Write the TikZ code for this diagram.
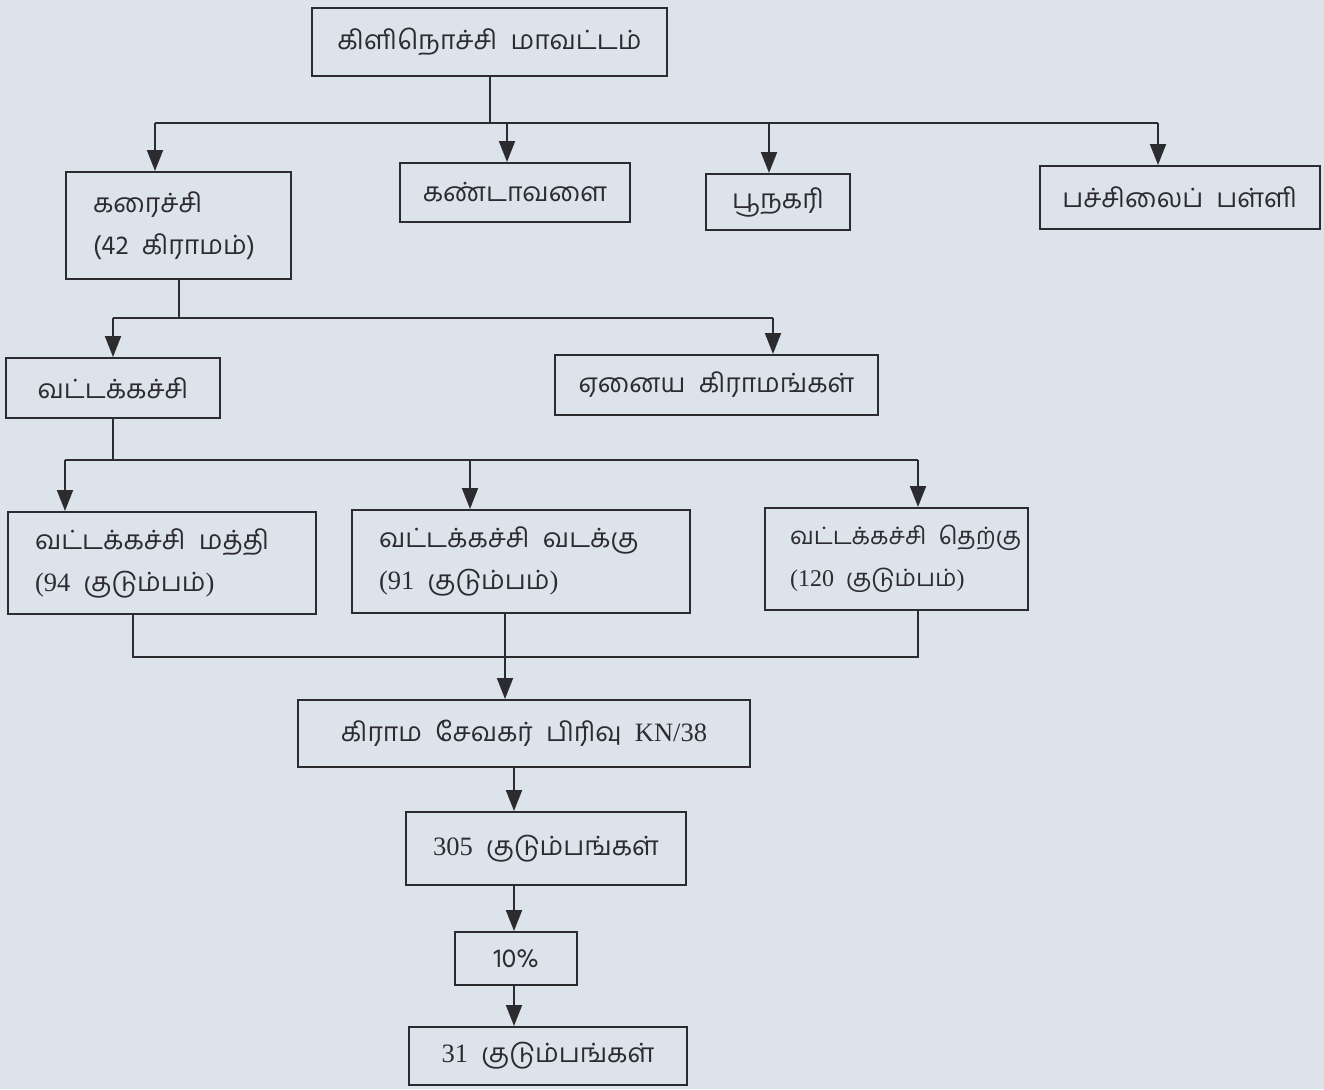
\documentclass[tikz,border=0pt]{standalone}
\usepackage{fontspec}
\setmainfont{Liberation Serif}
\newfontfamily\tam[Script=Tamil]{Hind Madurai}
\usetikzlibrary{arrows.meta}
\definecolor{paper}{RGB}{221,227,235}
\definecolor{ink}{RGB}{44,44,48}
\newcommand{\wgap}{\hspace{0.5em}}
\tikzset{
  box/.style={draw=ink, line width=2pt, text=ink, inner sep=0pt,
    font=\fontsize{26.5}{42}\selectfont},
  lbox/.style={box, align=left, inner xsep=27pt},
  link/.style={draw=ink, line width=2pt},
  arr/.style={link, -{Triangle[length=21pt,width=16pt]}},
}
\begin{document}
\begin{tikzpicture}[x=1pt,y=-1pt]
  \fill[paper] (0,0) rectangle (1324,1089);
  \node[box, minimum width=355pt, minimum height=68pt] (district) at (489.5,42)
    {\tam கிளிநொச்சி\wgap மாவட்டம்};
  \node[lbox, text width=171pt, minimum height=107pt] (karai) at (178.5,225.5)
    {\tam கரைச்சி\\(42\wgap{\tam கிராமம்})};
  \node[box, minimum width=230pt, minimum height=59pt] (kanda) at (515,192.5)
    {\tam கண்டாவளை};
  \node[box, minimum width=144pt, minimum height=56pt] (poona) at (778,202)
    {\tam பூநகரி};
  \node[box, minimum width=280pt, minimum height=63pt] (pachi) at (1180,197.5)
    {\tam பச்சிலைப்\wgap பள்ளி};
  \node[box, minimum width=214pt, minimum height=60pt] (vatta) at (113,388)
    {\tam வட்டக்கச்சி};
  \node[box, minimum width=323pt, minimum height=60pt] (enaiya) at (716.5,385)
    {\tam ஏனைய\wgap கிராமங்கள்};
  \node[lbox, text width=254pt, minimum height=102pt] (mathi) at (162,563)
    {\mbox{\tam வட்டக்கச்சி\wgap மத்தி}\\(94\wgap{\tam குடும்பம்})};
  \node[lbox, text width=284pt, minimum height=103pt] (vadakku) at (521,561.5)
    {\mbox{\tam வட்டக்கச்சி\wgap வடக்கு}\\(91\wgap{\tam குடும்பம்})};
  \node[lbox, inner xsep=25pt, text width=213pt, minimum height=102pt,
    font=\fontsize{24}{42}\selectfont] (therku) at (896.5,559)
    {\mbox{\tam வட்டக்கச்சி\wgap தெற்கு}\\(120\wgap{\tam குடும்பம்})};
  \node[box, minimum width=452pt, minimum height=67pt] (gs) at (524,733.5)
    {{\tam கிராம\wgap சேவகர்\wgap பிரிவு}\wgap KN/38};
  \node[box, minimum width=280pt, minimum height=73pt] (f305) at (546,848.5)
    {305\wgap{\tam குடும்பங்கள்}};
  \node[box, minimum width=122pt, minimum height=53pt] (pct) at (516,958.5)
    {\tam 10\%};
  \node[box, minimum width=278pt, minimum height=58pt] (f31) at (548,1056)
    {31\wgap{\tam குடும்பங்கள்}};

  \coordinate (b1a) at (155,123);
  \coordinate (b1b) at (507,123);
  \coordinate (b1c) at (769,123);
  \coordinate (b1d) at (1158,123);
  \draw[link] (district.south) -- (district.south |- b1a);
  \draw[link] (b1a) -- (b1d);
  \draw[arr] (b1a) -- (b1a |- karai.north);
  \draw[arr] (b1b) -- (b1b |- kanda.north);
  \draw[arr] (b1c) -- (b1c |- poona.north);
  \draw[arr] (b1d) -- (b1d |- pachi.north);

  \coordinate (b2a) at (113,318);
  \coordinate (b2b) at (773,318);
  \draw[link] (karai.south) -- (karai.south |- b2a);
  \draw[link] (b2a) -- (b2b);
  \draw[arr] (b2a) -- (b2a |- vatta.north);
  \draw[arr] (b2b) -- (b2b |- enaiya.north);

  \coordinate (b3a) at (65,460);
  \coordinate (b3b) at (470,460);
  \coordinate (b3c) at (918,460);
  \draw[link] (vatta.south) -- (vatta.south |- b3a);
  \draw[link] (b3a) -- (b3c);
  \draw[arr] (b3a) -- (b3a |- mathi.north);
  \draw[arr] (b3b) -- (b3b |- vadakku.north);
  \draw[arr] (b3c) -- (b3c |- therku.north);

  \coordinate (b4a) at (133,657);
  \coordinate (b4b) at (505,657);
  \coordinate (b4c) at (918,657);
  \draw[link] (b4a |- mathi.south) -- (b4a) -- (b4c) -- (b4c |- therku.south);
  \draw[arr] (b4b |- vadakku.south) -- (b4b |- gs.north);

  \coordinate (col) at (514,0);
  \draw[arr] (col |- gs.south) -- (col |- f305.north);
  \draw[arr] (col |- f305.south) -- (col |- pct.north);
  \draw[arr] (col |- pct.south) -- (col |- f31.north);
\end{tikzpicture}
\end{document}
